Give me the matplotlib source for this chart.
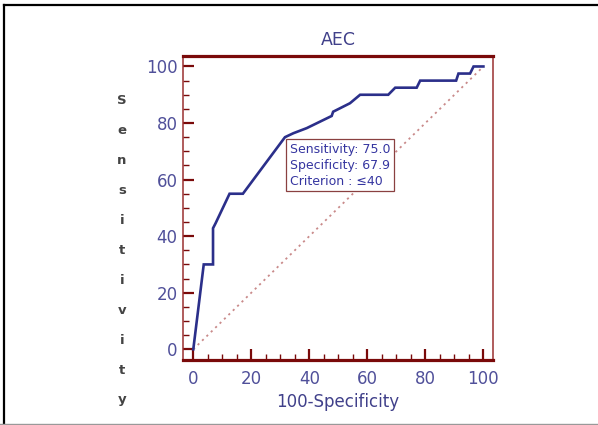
import matplotlib
matplotlib.use("Agg")
import matplotlib.pyplot as plt
from matplotlib.lines import Line2D
from matplotlib.ticker import MultipleLocator

# ROC curve
fpr = [0, 3.6, 6.8, 6.8, 7.7, 12.5, 17.1, 31.6, 34.5, 39.1, 43.7, 47.7, 48.2,
       54.0, 57.5, 67.2, 69.6, 77.0, 78.2, 90.6, 91.4, 95.4, 96.6, 100]
sens = [0, 30, 30, 42.8, 44.6, 55, 55, 75, 76.4, 78.2, 80.5, 82.5, 84,
        87, 90, 90, 92.5, 92.5, 95, 95, 97.5, 97.5, 100, 100]

# optimal criterion
crit_x = 32.1
crit_sens = 75.0
crit_spec = 67.9
crit_label = "\u226440"

title = "AEC"
xlabel = "100-Specificity"
ylabel = "Sensitivity"
ticks = [0, 20, 40, 60, 80, 100]

red = "#7a0a0a"
txt = "#50509a"

plt.rcParams['font.family'] = ['DejaVu Sans']

fig = plt.figure(figsize=(5.98, 4.25), dpi=100)
ax = fig.add_axes([0.3065, 0.1529, 0.5174, 0.7153])

ax.plot([0, 100], [0, 100], linestyle=(0, (1.2, 2.2)), color="#c98a8a", lw=1.3)
ax.plot(fpr, sens, color="#2b2f8a", lw=1.9, solid_joinstyle='miter')

ax.set_xlim(-3.45, 103.2)
ax.set_ylim(-3.8, 103.7)
ax.set_xticks(ticks)
ax.set_yticks(ticks)
ax.xaxis.set_minor_locator(MultipleLocator(5))
ax.yaxis.set_minor_locator(MultipleLocator(5))

ax.tick_params(which='major', direction='in', length=8, width=1.6, color=red,
               labelsize=12, labelcolor=txt, pad=4)
ax.tick_params(which='minor', direction='in', length=4, width=1.0, color=red)
ax.tick_params(axis='x', which='major', pad=7)
ax.tick_params(top=False, right=False, which='both')

for side in ['top', 'bottom']:
    ax.spines[side].set_linewidth(2.3)
    ax.spines[side].set_color(red)
for side in ['left', 'right']:
    ax.spines[side].set_linewidth(1.1)
    ax.spines[side].set_color("#9a3030")

ax.set_title(title, fontsize=12.5, color="#40408a", pad=8)
ax.set_xlabel(xlabel, fontsize=12, color="#40408a", labelpad=4)

# vertical, one letter per line y label
for i, ch in enumerate(ylabel):
    fig.text(122 / 598, 1 - (101 + i * 29.9) / 425, ch, ha='center', va='center',
             fontsize=9.5, fontweight='bold', color="#444444")

box_text = ("Sensitivity: %.1f\nSpecificity: %.1f\nCriterion : %s"
            % (crit_sens, crit_spec, crit_label))
ax.text(crit_x + 1.3, crit_sens - 1.9, box_text, ha='left', va='top', fontsize=9,
        color="#3535a0", linespacing=1.3, zorder=5,
        bbox=dict(boxstyle='square,pad=0.3', fc='white', ec="#8a4040", lw=0.9))

# outer frame of the picture
fig.add_artist(Line2D([4 / 598, 1], [1 - 5 / 425, 1 - 5 / 425], color='black', lw=1.6,
                      transform=fig.transFigure))
fig.add_artist(Line2D([4 / 598, 4 / 598], [0, 1 - 5 / 425], color='black', lw=1.6,
                      transform=fig.transFigure))
fig.add_artist(Line2D([0, 1], [1 / 425, 1 / 425], color='#999999', lw=1.0,
                      transform=fig.transFigure))

fig.savefig("out.png", dpi=100)
